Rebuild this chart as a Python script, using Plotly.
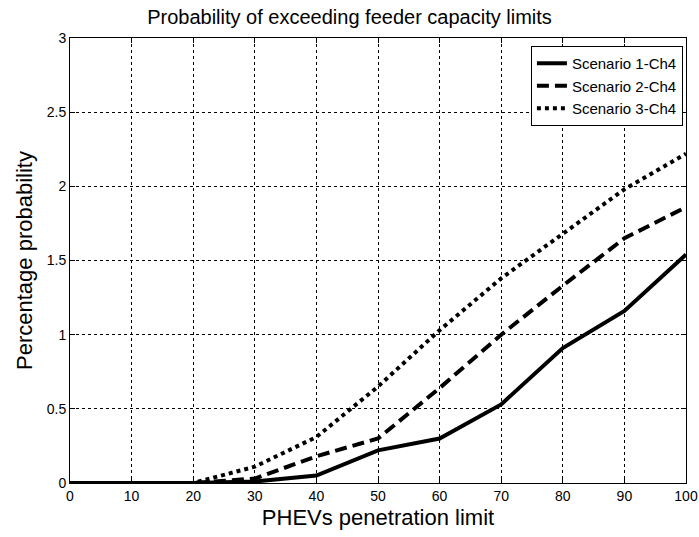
import plotly.graph_objects as go

# PHEV penetration levels (%)
penetration = [0, 10, 20, 30, 40, 50, 60, 70, 80, 90, 100]

# Probability (%) of exceeding feeder capacity limits
scenario_1 = [0, 0, 0, 0.01, 0.05, 0.22, 0.30, 0.53, 0.91, 1.16, 1.54]
scenario_2 = [0, 0, 0, 0.03, 0.18, 0.30, 0.64, 1.00, 1.33, 1.65, 1.86]
scenario_3 = [0, 0, 0, 0.11, 0.31, 0.65, 1.03, 1.38, 1.68, 1.98, 2.22]

series_names = ["Scenario 1-Ch4", "Scenario 2-Ch4", "Scenario 3-Ch4"]
x_ticks = [0, 10, 20, 30, 40, 50, 60, 70, 80, 90, 100]
y_ticks = [0, 0.5, 1, 1.5, 2, 2.5, 3]
y_tick_labels = ["0", "0.5", "1", "1.5", "2", "2.5", "3"]

FONT = "Liberation Sans, Arial, sans-serif"

fig = go.Figure()
styles = ["solid", "12px,6px", "4px,4px"]
for name, ys, dash in zip(series_names, [scenario_1, scenario_2, scenario_3], styles):
    fig.add_trace(go.Scatter(
        x=penetration, y=ys, mode="lines", name=name,
        line=dict(color="black", width=4, dash=dash),
    ))

axis_common = dict(
    showline=True, linecolor="black", linewidth=1, mirror="ticks",
    ticks="inside", ticklen=5, tickcolor="black",
    showgrid=True, gridcolor="black", gridwidth=0.6, griddash="3px,3px",
    zeroline=False, tickfont=dict(family=FONT, size=14, color="black"),
    automargin=False,
)

fig.update_xaxes(
    range=[0, 100], tickvals=x_ticks,
    title=dict(text="PHEVs penetration limit", font=dict(family=FONT, size=22, color="black"), standoff=6),
    **axis_common,
)
fig.update_yaxes(
    range=[0, 3], tickvals=y_ticks, ticktext=y_tick_labels,
    title=dict(text="Percentage probability", font=dict(family=FONT, size=22, color="black"), standoff=8),
    **axis_common,
)

fig.update_layout(
    width=699, height=537,
    margin=dict(l=70, r=13, t=38, b=54),
    paper_bgcolor="white", plot_bgcolor="white",
    title=dict(text="Probability of exceeding feeder capacity limits",
               font=dict(family=FONT, size=20, color="black"),
               x=0.5, xanchor="center", y=0.968, yanchor="middle"),
    legend=dict(
        x=0.995, y=0.982, xanchor="right", yanchor="top",
        bgcolor="white", bordercolor="black", borderwidth=1,
        font=dict(family=FONT, size=15, color="black"),
        tracegroupgap=0, itemwidth=30,
    ),
    showlegend=True,
)

fig.write_html("out.html")
